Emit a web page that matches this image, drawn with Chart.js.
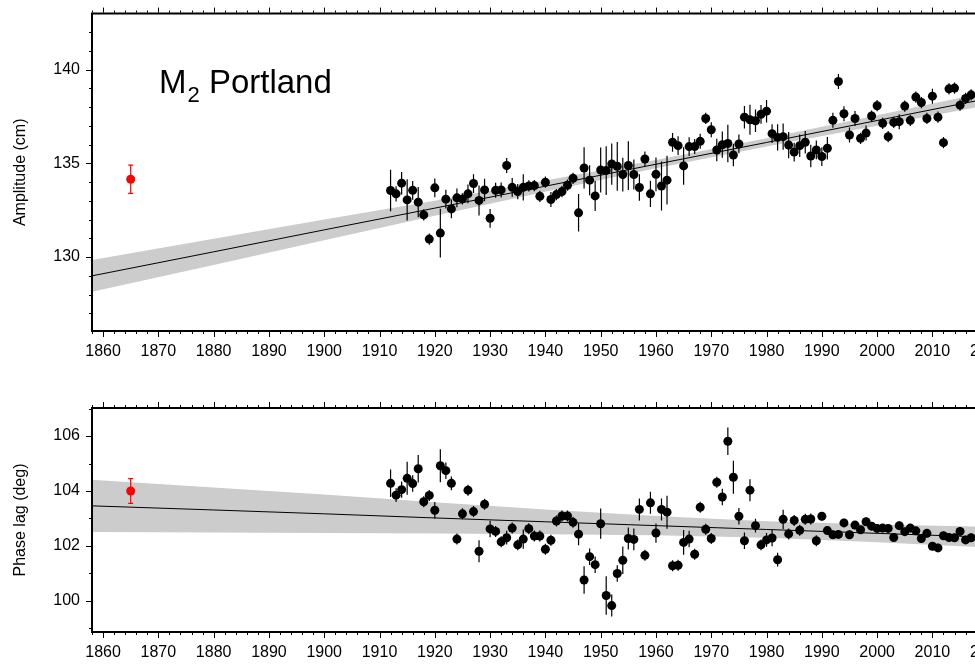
<!DOCTYPE html>
<html><head><meta charset="utf-8">
<script src="https://cdn.jsdelivr.net/npm/chart.js@4"></script>
<style>
html,body{margin:0;padding:0;background:#fff;overflow:hidden;width:975px;height:664px;position:relative}
canvas{position:absolute;left:0}
#c1{top:-8px}#c2{top:380px}
</style></head><body>
<canvas id="c1" width="1100" height="380" style="width:1100px;height:380px"></canvas>
<canvas id="c2" width="1100" height="284" style="width:1100px;height:284px"></canvas>
<script>
const years = [];
for (let y = 1912; y <= 2017; y++) years.push(y);
const ampValues = [133.55,133.37,133.94,133.05,133.56,132.93,132.25,130.96,133.69,131.28,
133.09,132.57,133.16,133.1,133.37,133.92,133.02,133.58,132.07,133.56,
133.58,134.88,133.72,133.49,133.72,133.79,133.81,133.24,133.99,133.07,
133.33,133.49,133.83,134.2,132.36,134.75,134.1,133.26,134.64,134.61,
134.96,134.84,134.4,134.88,134.4,133.71,135.23,133.37,134.41,133.79,
134.1,136.12,
135.94,134.86,135.89,135.89,136.17,137.39,136.79,135.71,135.99,136.06,
135.44,136.03,137.46,137.32,137.27,137.61,137.78,136.58,136.38,136.42,
135.97,135.6,135.94,136.12,135.39,135.71,135.36,135.8,137.29,139.36,
137.64,136.51,137.39,136.33,136.61,137.52,138.07,137.13,136.42,137.18,
137.22,138.05,137.29,138.53,138.24,137.39,138.58,137.46,136.1,138.97,
139.01,138.1,138.46,138.65];
const ampErrors = [1.1,0.4,0.6,1.1,0.5,0.8,0.3,0.3,0.5,1.3,
0.5,0.5,0.5,0.3,0.5,0.5,0.8,0.6,0.5,0.4,
0.4,0.4,0.5,0.4,0.7,0.3,0.3,0.3,0.3,0.4,
0.3,0.3,0.3,0.3,1.0,1.1,0.8,0.8,1.2,1.3,
1.1,1.3,0.9,1.3,0.8,0.7,0.4,0.7,0.9,1.3,
1.3,0.5,0.5,1.0,0.5,0.4,0.4,0.3,0.4,0.6,
0.7,1.0,0.6,0.5,0.6,0.8,0.6,0.5,0.6,0.5,
0.7,0.7,0.7,0.5,0.6,0.6,0.6,0.5,0.5,0.6,
0.4,0.4,0.4,0.4,0.4,0.3,0.4,0.3,0.3,0.3,
0.3,0.3,0.4,0.3,0.3,0.3,0.3,0.3,0.4,0.3,
0.3,0.3,0.3,0.3,0.3,0.3];
const phaseValues = [104.28,103.85,104.05,104.46,104.27,104.81,103.61,103.84,103.3,104.92,
104.74,104.28,102.25,103.17,104.03,103.25,101.81,103.52,102.62,102.53,
102.15,102.3,102.65,102.04,102.25,102.63,102.36,102.36,101.88,102.21,
102.91,103.09,103.09,102.86,102.43,100.76,101.61,101.32,102.81,100.2,
99.83,101.0,101.48,102.27,102.24,103.33,101.66,103.57,102.47,103.33,
103.23,101.28,
101.3,102.13,102.25,101.7,103.41,102.61,102.27,104.32,103.78,105.81,
104.5,103.08,102.19,104.03,102.74,102.04,102.22,102.29,101.5,102.97,
102.44,102.93,102.57,102.97,102.98,102.19,103.08,102.56,102.41,102.42,
102.84,102.41,102.76,102.59,102.88,102.72,102.64,102.65,102.64,102.31,
102.74,102.52,102.65,102.55,102.27,102.46,101.99,101.93,102.37,102.31,
102.3,102.53,102.22,102.3];
const phaseErrors = [0.5,0.25,0.3,0.6,0.3,0.5,0.2,0.2,0.3,0.6,
0.3,0.25,0.2,0.2,0.2,0.2,0.4,0.2,0.3,0.2,
0.2,0.25,0.2,0.2,0.35,0.2,0.2,0.2,0.2,0.2,
0.2,0.2,0.2,0.2,0.4,0.5,0.3,0.3,0.55,0.7,
0.4,0.3,0.5,0.4,0.4,0.4,0.2,0.4,0.35,0.4,
0.6,0.2,
0.2,0.45,0.3,0.2,0.2,0.2,0.2,0.2,0.3,0.5,
0.6,0.3,0.3,0.4,0.25,0.2,0.25,0.3,0.25,0.35,
0.2,0.2,0.2,0.2,0.2,0.2,0.15,0.15,0.15,0.15,
0.15,0.15,0.15,0.15,0.15,0.15,0.15,0.15,0.15,0.15,
0.15,0.15,0.15,0.15,0.15,0.15,0.15,0.15,0.15,0.15,
0.15,0.15,0.15,0.15];
const historicYear = [1865];
const historicAmp = [134.15], historicAmpErr = [0.75];
const historicPhase = [104.0], historicPhaseErr = [0.45];
const trendYears = [1858,1880,1900,1920,1940,1960,1980,2000,2020,2040];
const ampTrend = [129.0,130.28,131.45,132.61,133.78,134.95,136.11,137.28,138.45,139.61];
const ampUpper = [129.85,130.98,132.0,133.01,134.08,135.17,136.33,137.56,138.8,140.06];
const ampLower = [128.15,129.58,130.9,132.21,133.48,134.73,135.89,137.0,138.1,139.16];
const phaseTrend = [103.46,103.31,103.17,103.02,102.88,102.74,102.6,102.46,102.32,102.18];
const phaseUpper = [104.41,104.13,103.87,103.59,103.33,103.09,102.9,102.78,102.7,102.66];
const phaseLower = [102.51,102.49,102.47,102.45,102.43,102.39,102.3,102.14,101.94,101.7];
const xTickLabels = [1860,1870,1880,1890,1900,1910,1920,1930,1940,1950,1960,1970,1980,1990,2000,2010,2020,2030];

const FONT = "'Liberation Sans', Arial, sans-serif";
const pts = (xs, ys) => xs.map((x, i) => ({x, y: ys[i]}));

const decor = {
  id: 'decor',
  afterDatasetsDraw(chart, args, opts) {
    const ctx = chart.ctx, xs = chart.scales.x, ys = chart.scales.y, a = chart.chartArea;
    ctx.save();
    ctx.strokeStyle = '#000'; ctx.lineWidth = 2;
    ctx.beginPath();
    ctx.moveTo(a.right, a.top); ctx.lineTo(a.left, a.top); ctx.lineTo(a.left, a.bottom); ctx.lineTo(a.right, a.bottom);
    ctx.stroke();
    ctx.lineWidth = 1;
    ctx.beginPath();
    for (let yr = 1858; yr <= 2038; yr += 2) {
      const x = Math.round(xs.getPixelForValue(yr)) + 0.5;
      const L = yr % 10 === 0 ? 6 : 3;
      ctx.moveTo(x, a.bottom + 1); ctx.lineTo(x, a.bottom + L);
      ctx.moveTo(x, a.top - 1); ctx.lineTo(x, a.top - L);
    }
    for (let v = Math.ceil(ys.min); v <= ys.max; v += 1) {
      const y = Math.round(ys.getPixelForValue(v)) + 0.5;
      const L = v % opts.major === 0 ? 6 : 3;
      ctx.moveTo(a.left - 1, y); ctx.lineTo(a.left - L, y);
    }
    ctx.stroke();
    if (opts.title) {
      const ty = a.top + 79;
      ctx.fillStyle = '#000'; ctx.textBaseline = 'alphabetic';
      ctx.font = '33px ' + FONT;
      ctx.fillText('M', 159, ty);
      const w = ctx.measureText('M').width;
      ctx.font = '22px ' + FONT;
      ctx.fillText('2', 159 + w + 1, ty + 9);
      const w2 = ctx.measureText('2').width;
      ctx.font = '33px ' + FONT;
      ctx.fillText(' Portland', 159 + w + w2 + 1, ty);
    }
    ctx.restore();
  }
};

const errBars = {
  id: 'errBars',
  afterDatasetDraw(chart, args) {
    const ds = chart.data.datasets[args.index];
    if (!ds.errs) return;
    const ctx = chart.ctx, xs = chart.scales.x, ys = chart.scales.y;
    ctx.save();
    ctx.strokeStyle = ds.backgroundColor; ctx.lineWidth = 1.2;
    ctx.beginPath();
    ds.data.forEach((p, i) => {
      const x = xs.getPixelForValue(p.x);
      const y1 = ys.getPixelForValue(p.y - ds.errs[i]), y2 = ys.getPixelForValue(p.y + ds.errs[i]);
      ctx.moveTo(x, y1); ctx.lineTo(x, y2);
      if (ds.caps) { ctx.moveTo(x-2.5, y1); ctx.lineTo(x+2.5, y1); ctx.moveTo(x-2.5, y2); ctx.lineTo(x+2.5, y2); }
    });
    ctx.stroke();
    ctx.restore();
  }
};

function makeChart(id, vals, errs, hv, he, trend, up, lo, ymin, ymax, major, title, padTop, xH, yTitle) {
  return new Chart(document.getElementById(id), {
    type: 'scatter',
    data: { datasets: [
      { type: 'line', order: 5, data: pts(trendYears, up), borderWidth: 0, pointRadius: 0, fill: false, backgroundColor: '#cccccc', borderColor: 'rgba(0,0,0,0)' },
      { type: 'line', order: 4, data: pts(trendYears, lo), borderWidth: 0, pointRadius: 0, fill: '-1', backgroundColor: '#cccccc', borderColor: 'rgba(0,0,0,0)' },
      { type: 'line', order: 3, data: pts(trendYears, trend), borderWidth: 1, pointRadius: 0, borderColor: '#000', fill: false },
      { order: 2, data: pts(years, vals), errs: errs, pointRadius: 4.5, backgroundColor: '#000', borderColor: '#000', borderWidth: 0 },
      { order: 1, data: pts(historicYear, hv), errs: he, caps: true, pointRadius: 4.5, backgroundColor: '#ff0000', borderColor: '#ff0000', borderWidth: 0 }
    ]},
    options: {
      responsive: false, animation: false, devicePixelRatio: 1,
      layout: { padding: { top: padTop, right: 10, left: 0, bottom: 0 } },
      plugins: { legend: { display: false }, tooltip: { enabled: false }, decor: { major, title } },
      scales: {
        x: { type: 'linear', min: 1858, max: 2038.5,
          afterFit: s => { s.height = xH; },
          afterBuildTicks: s => { s.ticks = xTickLabels.map(v => ({ value: v })); },
          grid: { display: false, drawTicks: false }, border: { display: false },
          ticks: { padding: 11, maxRotation: 0, autoSkip: false, color: '#000', font: { family: FONT, size: 16 }, callback: v => String(v) } },
        y: { min: ymin, max: ymax,
          afterFit: s => { s.width = 92; },
          afterBuildTicks: s => { const t = []; for (let v = Math.ceil(ymin / major) * major; v <= ymax; v += major) t.push({ value: v }); s.ticks = t; },
          grid: { display: false, drawTicks: false }, border: { display: false },
          title: { display: true, text: yTitle, color: '#000', font: { family: FONT, size: 16 }, padding: { top: 11, bottom: 2 } },
          ticks: { padding: 12, color: '#000', font: { family: FONT, size: 16 }, callback: v => String(v) } }
      }
    },
    plugins: [errBars, decor]
  });
}
makeChart('c1', ampValues, ampErrors, historicAmp, historicAmpErr, ampTrend, ampUpper, ampLower, 126.06, 142.98, 5, true, 4, 41, 'Amplitude (cm)');
makeChart('c2', phaseValues, phaseErrors, historicPhase, historicPhaseErr, phaseTrend, phaseUpper, phaseLower, 98.87, 107.02, 2, false, 28, 32, 'Phase lag (deg)');
</script></body></html>
